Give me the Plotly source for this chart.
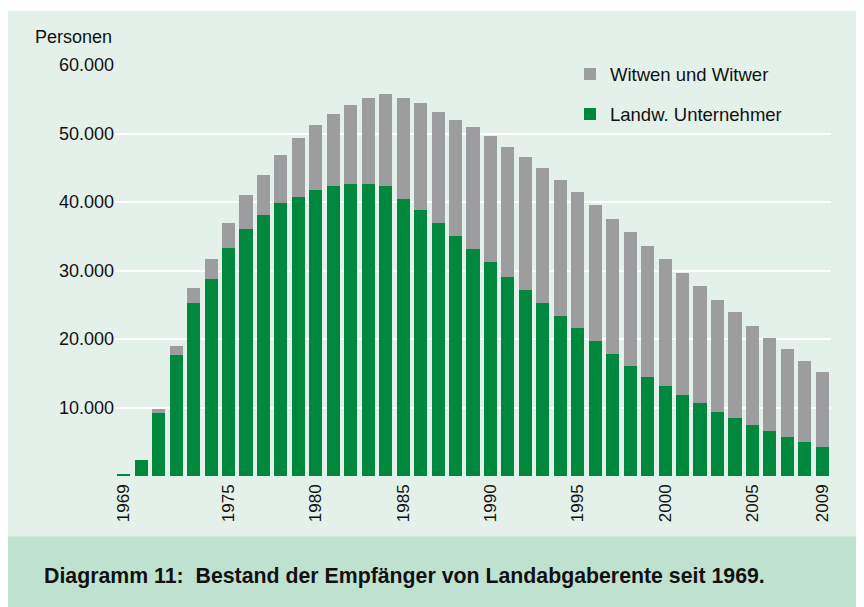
import plotly.graph_objects as go

# Data
years = list(range(1969, 2010))
totals = [0.3, 2.3, 9.8, 19.0, 27.4, 31.7, 37.0, 41.0, 44.0, 46.8,
          49.3, 51.3, 52.8, 54.2, 55.2, 55.8, 55.2, 54.4, 53.2, 52.0,
          50.9, 49.6, 48.1, 46.5, 44.9, 43.2, 41.4, 39.5, 37.5, 35.6,
          33.6, 31.7, 29.7, 27.7, 25.7, 23.9, 21.9, 20.2, 18.6, 16.8, 15.2]
farmers = [0.3, 2.3, 9.2, 17.7, 25.3, 28.7, 33.3, 36.0, 38.1, 39.8,
           40.8, 41.8, 42.3, 42.6, 42.7, 42.3, 40.5, 38.8, 36.9, 35.0,
           33.1, 31.2, 29.0, 27.1, 25.3, 23.4, 21.6, 19.7, 17.8, 16.1,
           14.5, 13.1, 11.8, 10.6, 9.4, 8.4, 7.5, 6.5, 5.7, 5.0, 4.3]
# thousands -> persons
farmers = [round(v * 1000) for v in farmers]
widows = [round(t * 1000) - f for t, f in zip(totals, farmers)]

tick_years = [1969, 1975, 1980, 1985, 1990, 1995, 2000, 2005, 2009]
y_ticks = [10000, 20000, 30000, 40000, 50000, 60000]
y_labels = ["10.000", "20.000", "30.000", "40.000", "50.000", "60.000"]

GREEN = "#00883f"
GREY = "#9d9d9f"
PANEL = "#e4f1ea"
BAND = "#bfe1d0"

fig = go.Figure()
fig.add_trace(go.Bar(x=years, y=farmers, name="Landw. Unternehmer",
                     marker_color=GREEN, marker_line_width=0,
                     legendgroup="b", legendrank=2))
fig.add_trace(go.Bar(x=years, y=widows, name="Witwen und Witwer",
                     marker_color=GREY, marker_line_width=0,
                     legendgroup="a", legendrank=1))

# the page puts the figure 8px in from the top left corner (body margin),
# so positions below are page px - 8
OFF = 8
FW, FH = 864 - OFF, 607 - OFF
L, R, T, B = 115 - OFF, FW - (831 - OFF), 64.5 - OFF, FH - (476.5 - OFF)
W, H = FW - L - R, FH - T - B
def px_x(x): return (x - OFF - L) / W
def px_y(y): return 1 - (y - OFF - T) / H

fig.add_shape(type="rect", xref="paper", yref="paper", layer="below",
              x0=px_x(7), x1=px_x(880), y0=px_y(537), y1=px_y(10),
              fillcolor=PANEL, line_width=0)
fig.add_shape(type="rect", xref="paper", yref="paper", layer="below",
              x0=px_x(7), x1=px_x(880), y0=px_y(640), y1=px_y(537),
              fillcolor=BAND, line_width=0)

fig.add_annotation(text="Personen", xref="paper", yref="paper",
                   x=px_x(114), y=px_y(36), xanchor="right", yanchor="middle",
                   showarrow=False, font=dict(size=18, color="#111"))
fig.add_annotation(text="<b>Diagramm 11:\u00a0 Bestand der Empfänger von Landabgaberente seit 1969.</b>",
                   xref="paper", yref="paper", x=px_x(42), y=px_y(577),
                   xanchor="left", yanchor="middle", showarrow=False,
                   font=dict(size=21.3, color="#111"))

fig.update_layout(
    width=FW, height=FH,
    margin=dict(l=L, r=R, t=T, b=B),
    barmode="stack", bargap=0.25,
    paper_bgcolor="white", plot_bgcolor="rgba(0,0,0,0)",
    font=dict(family="Liberation Sans, Arial, sans-serif", color="#111"),
    showlegend=True,
    legend=dict(traceorder="grouped", tracegroupgap=13,
                x=px_x(570), y=px_y(55), xanchor="left", yanchor="top",
                bgcolor="rgba(0,0,0,0)", font=dict(size=18.5),
                itemsizing="constant"),
    xaxis=dict(tickmode="array", tickvals=tick_years,
               ticktext=[str(t) for t in tick_years],
               tickangle=-90, tickfont=dict(size=17), range=[1968.5, 2009.5],
               showgrid=False, zeroline=False, showline=False, ticks="",
               ticklabelstandoff=4),
    yaxis=dict(tickmode="array", tickvals=y_ticks, ticktext=y_labels,
               tickfont=dict(size=18), range=[0, 60000],
               showgrid=True, gridcolor="white", gridwidth=2,
               zeroline=False, showline=False, ticks=""),
)

fig.write_html("out.html")
